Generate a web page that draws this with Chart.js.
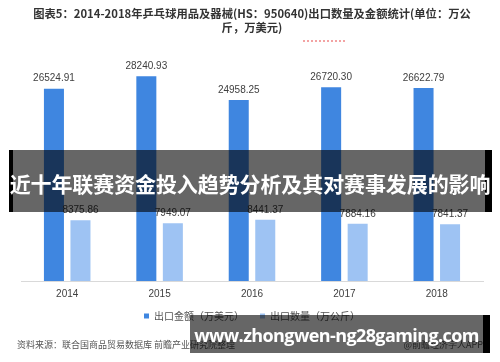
<!DOCTYPE html>
<html><head><meta charset="utf-8">
<script src="https://cdn.jsdelivr.net/npm/chart.js@4.4.1/dist/chart.umd.min.js"></script>
<style>
html,body{margin:0;padding:0;background:#fff;}
#wrap{position:relative;width:500px;height:362px;overflow:hidden;font-family:"Noto Sans CJK SC","Noto Sans",sans-serif;}
canvas{position:absolute;left:0;top:0;}
.dots{position:absolute;left:303px;top:40px;width:42px;height:0;border-top:2px dotted #f3a3a3;}
.src{position:absolute;left:17px;top:338px;font-size:9px;color:#555;white-space:nowrap;}
.app{position:absolute;right:17px;top:338px;font-size:9px;color:#555;white-space:nowrap;}
.banner{position:absolute;left:9px;top:150px;width:483px;height:62px;background:rgba(0,0,0,0.6);border-left:4px solid #000;border-right:7px solid #000;box-sizing:border-box;}
.bannerText{position:absolute;left:0px;top:168px;width:500px;text-align:center;font-size:21px;font-weight:bold;color:#fff;white-space:nowrap;line-height:30px;letter-spacing:-0.1px;}
.url{position:absolute;left:190px;top:315px;width:300px;height:38px;background:rgba(0,0,0,0.6);border-right:7px solid #000;box-sizing:border-box;}
.urlText{position:absolute;left:190px;top:322px;width:293px;text-align:center;font-family:"Open Sans",sans-serif;font-size:18px;font-weight:bold;color:#fff;white-space:nowrap;line-height:26px;letter-spacing:-0.6px;}
</style></head>
<body><div id="wrap">
<canvas id="c" width="500" height="362"></canvas>
<div class="dots"></div>
<div class="src">资料来源：联合国商品贸易数据库 前瞻产业研究院整理</div>
<div class="app">@前瞻经济学人APP</div>
<div class="banner"></div>
<div class="bannerText">近十年联赛资金投入趋势分析及其对赛事发展的影响</div>
<div class="url"></div>
<div class="urlText">www.zhongwen-ng28gaming.com</div>
</div>
<script>
const years = ["2014","2015","2016","2017","2018"];
const exportValue = [26524.91, 28240.93, 24958.25, 26720.30, 26622.79];
const exportQuantity = [8375.86, 7949.07, 8441.37, 7884.16, 7841.37];
const seriesNames = ["出口金额（万美元）","出口数量（万公斤）"];
const seriesColors = ['#3f86e0','#9ec3f3'];
const titleLines = ["图表5：2014-2018年乒乓球用品及器械(HS：950640)出口数量及金额统计(单位：万公","斤，万美元)"];

const labelPlugin = {
  id:'valueLabels',
  afterDatasetsDraw(chart){
    const ctx = chart.ctx;
    ctx.save();
    ctx.font = '10px "Liberation Sans", sans-serif';
    ctx.fillStyle = '#404040';
    ctx.textAlign = 'center';
    ctx.textBaseline = 'bottom';
    chart.data.datasets.forEach((ds,i)=>{
      chart.getDatasetMeta(i).data.forEach((bar,j)=>{
        ctx.fillText(ds.data[j].toFixed(2), bar.x, bar.y - 5);
      });
    });
    ctx.restore();
  }
};

new Chart(document.getElementById('c'), {
  type:'bar',
  data:{
    labels:years,
    datasets:[
      {label:seriesNames[0], data:exportValue, backgroundColor:seriesColors[0], categoryPercentage:0.574, barPercentage:0.755},
      {label:seriesNames[1], data:exportQuantity, backgroundColor:seriesColors[1], categoryPercentage:0.574, barPercentage:0.755}
    ]
  },
  options:{
    responsive:false, animation:false,
    layout:{padding:{left:21,right:17,top:7,bottom:31}},
    plugins:{
      title:{display:true, text:titleLines, color:'#333', font:{family:'"Noto Sans CJK SC", sans-serif', size:11.3, weight:'bold'}, padding:{top:0,bottom:17}, lineHeight:1.0},
      legend:{position:'bottom', labels:{boxWidth:5, boxHeight:5, color:'#555', font:{family:'"Noto Sans CJK SC", sans-serif', size:10}, padding:4,
        generateLabels(chart){
          return chart.data.datasets.map((ds,i)=>({
            text: ds.label + (i===0 ? '\u2003\u2009' : ''),
            fillStyle: ds.backgroundColor, strokeStyle: ds.backgroundColor, lineWidth:0,
            hidden:false, datasetIndex:i, fontColor:'#555'
          }));
        }}},
      tooltip:{enabled:false}
    },
    scales:{
      x:{grid:{display:false, drawTicks:false}, border:{color:'#d9d9d9'}, ticks:{color:'#404040', font:{family:'"Liberation Sans", sans-serif', size:10}, padding:7}},
      y:{display:false, min:0, max:31700}
    }
  },
  plugins:[labelPlugin]
});
</script>
</body></html>
